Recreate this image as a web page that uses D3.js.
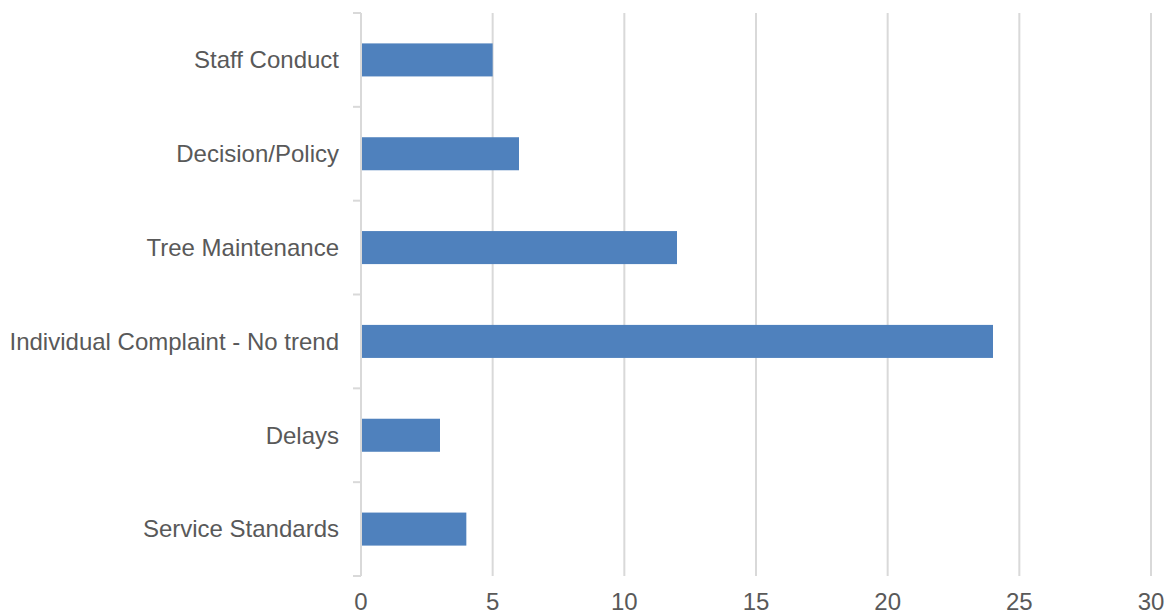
<!DOCTYPE html>
<html>
<head>
<meta charset="utf-8">
<script src="https://cdn.jsdelivr.net/npm/d3@7/dist/d3.min.js"></script>
<style>
html,body{margin:0;padding:0;background:#fff;}
svg{display:block;}
</style>
</head>
<body>
<svg id="chart" width="1173" height="616"></svg>
<script>
const categories = ["Staff Conduct","Decision/Policy","Tree Maintenance","Individual Complaint - No trend","Delays","Service Standards"];
const values = [5, 6, 12, 24, 3, 4];
const xTicks = [0, 5, 10, 15, 20, 25, 30];

(function () {
const svg = d3.select("#chart");
const mLeft = 361, mRight = 1151, mTop = 13, mBottom = 576;
const font = "Arial, 'Liberation Sans', sans-serif";
const textColor = "#595959";
const gridColor = "#d9d9d9";

const x = d3.scaleLinear().domain([0, 30]).range([mLeft, mRight]);
const y = d3.scaleBand().domain(categories).range([mTop, mBottom]).padding(0);
const barFrac = 0.352;

// gridlines
svg.append("g").selectAll("line").data(xTicks.filter(d => d > 0)).join("line")
  .attr("x1", d => x(d)).attr("x2", d => x(d))
  .attr("y1", mTop).attr("y2", mBottom)
  .attr("stroke", gridColor).attr("stroke-width", 2);

// bars
svg.append("g").selectAll("rect").data(categories).join("rect")
  .attr("x", x(0))
  .attr("y", (d) => y(d) + y.bandwidth() * (1 - barFrac) / 2)
  .attr("width", (d, i) => x(values[i]) - x(0))
  .attr("height", y.bandwidth() * barFrac)
  .attr("fill", "#4f81bd");

// y axis line
svg.append("line").attr("x1", mLeft).attr("x2", mLeft).attr("y1", mTop).attr("y2", mBottom)
  .attr("stroke", gridColor).attr("stroke-width", 2);

// y axis ticks at band boundaries
const bounds = categories.map(c => y(c)).concat([mBottom]);
svg.append("g").selectAll("line").data(bounds).join("line")
  .attr("x1", mLeft - 8).attr("x2", mLeft)
  .attr("y1", d => d).attr("y2", d => d)
  .attr("stroke", gridColor).attr("stroke-width", 2);

// category labels
svg.append("g").selectAll("text").data(categories).join("text")
  .attr("x", mLeft - 22)
  .attr("y", d => y(d) + y.bandwidth() / 2)
  .attr("dy", "0.35em")
  .attr("text-anchor", "end")
  .attr("font-family", font).attr("font-size", 24)
  .attr("fill", textColor)
  .text(d => d);

// x tick labels
svg.append("g").selectAll("text").data(xTicks).join("text")
  .attr("x", d => x(d))
  .attr("y", 610)
  .attr("text-anchor", "middle")
  .attr("font-family", font).attr("font-size", 24)
  .attr("fill", textColor)
  .text(d => d);
})();
</script>
</body>
</html>
